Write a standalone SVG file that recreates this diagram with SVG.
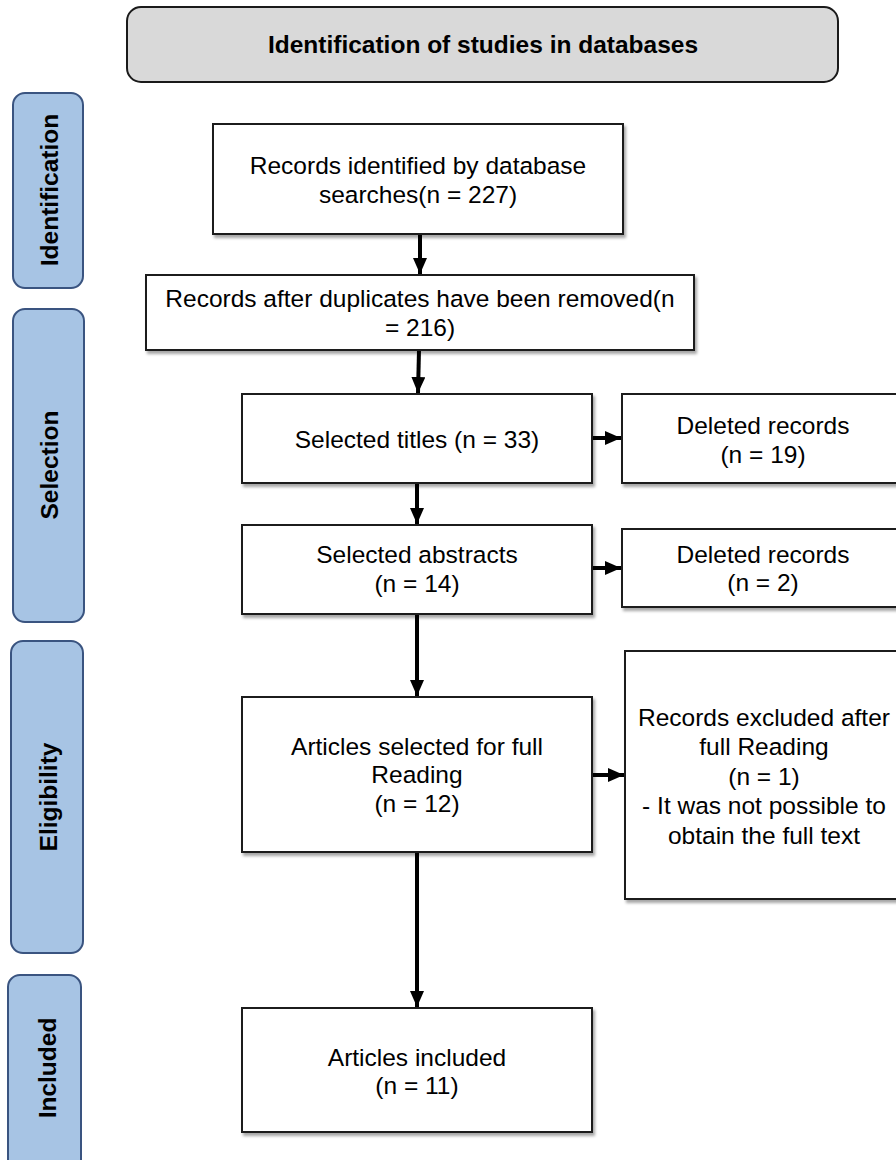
<svg xmlns="http://www.w3.org/2000/svg" width="896" height="1160" viewBox="0 0 896 1160">
<defs>
<filter id="sh" x="-5%" y="-5%" width="115%" height="120%">
<feDropShadow dx="2" dy="3" stdDeviation="1.8" flood-color="#000" flood-opacity="0.35"/>
</filter>
<marker id="ah" viewBox="0 0 10 10" refX="10" refY="5" markerWidth="4" markerHeight="3.5" preserveAspectRatio="none" orient="auto" markerUnits="strokeWidth">
<path d="M0,0 L10,5 L0,10 Z" fill="#000"/>
</marker>
<style>
.box{fill:#fff;stroke:#1a1a1a;stroke-width:2;filter:url(#sh)}
.phase{fill:#a7c4e4;stroke:#3a5480;stroke-width:2}
.hdr{fill:#d9d9d9;stroke:#1a1a1a;stroke-width:2}
.t{font-family:"Liberation Sans",Arial,sans-serif;font-size:24.5px;fill:#000;text-anchor:middle}
.b{font-family:"Liberation Sans",Arial,sans-serif;font-size:24.5px;font-weight:bold;fill:#000;text-anchor:middle}
.c{stroke:#000;stroke-width:4;fill:none;marker-end:url(#ah)}
</style>
</defs>
<rect width="896" height="1160" fill="#fff"/>

<g id="header">
<rect class="hdr" x="127" y="7" width="711" height="75" rx="14"/>
<text class="b" x="483" y="53">Identification of studies in databases</text>
</g>

<g id="phase-identification">
<rect class="phase" x="13" y="93" width="70" height="195" rx="12"/>
<text class="b" transform="translate(58,190) rotate(-90)">Identification</text>
</g>
<g id="phase-selection">
<rect class="phase" x="13" y="309" width="71" height="313" rx="12"/>
<text class="b" transform="translate(58,465) rotate(-90)">Selection</text>
</g>
<g id="phase-eligibility">
<rect class="phase" x="11" y="641" width="72" height="312" rx="12"/>
<text class="b" transform="translate(57,797) rotate(-90)">Eligibility</text>
</g>
<g id="phase-included">
<rect class="phase" x="8" y="975" width="73" height="200" rx="12"/>
<text class="b" transform="translate(56,1068) rotate(-90)">Included</text>
</g>

<g id="connectors">
<line class="c" x1="420" y1="234" x2="420" y2="274"/>
<line class="c" x1="419" y1="350" x2="418" y2="393"/>
<line class="c" x1="417" y1="483" x2="417" y2="524"/>
<line class="c" x1="417" y1="614" x2="417" y2="696"/>
<line class="c" x1="417" y1="852" x2="417" y2="1007"/>
<line class="c" x1="592" y1="438" x2="621" y2="438"/>
<line class="c" x1="592" y1="568" x2="621" y2="568"/>
<line class="c" x1="592" y1="775" x2="624" y2="775"/>
</g>

<g id="n-records-identified">
<rect class="box" x="213" y="124" width="410" height="110"/>
<text class="t" x="418" y="174">Records identified by database</text>
<text class="t" x="418" y="203">searches(n = 227)</text>
</g>
<g id="n-after-duplicates">
<rect class="box" x="146" y="275" width="548" height="75"/>
<text class="t" x="420" y="307">Records after duplicates have been removed(n</text>
<text class="t" x="420" y="336">= 216)</text>
</g>
<g id="n-selected-titles">
<rect class="box" x="242" y="394" width="350" height="89"/>
<text class="t" x="417" y="448">Selected titles (n = 33)</text>
</g>
<g id="n-deleted-1">
<rect class="box" x="622" y="394" width="290" height="89"/>
<text class="t" x="763" y="434">Deleted records</text>
<text class="t" x="763" y="463">(n = 19)</text>
</g>
<g id="n-selected-abstracts">
<rect class="box" x="242" y="525" width="350" height="89"/>
<text class="t" x="417" y="563">Selected abstracts</text>
<text class="t" x="417" y="592">(n = 14)</text>
</g>
<g id="n-deleted-2">
<rect class="box" x="622" y="529" width="290" height="78"/>
<text class="t" x="763" y="563">Deleted records</text>
<text class="t" x="763" y="591">(n = 2)</text>
</g>
<g id="n-full-reading">
<rect class="box" x="242" y="697" width="350" height="155"/>
<text class="t" x="417" y="755">Articles selected for full</text>
<text class="t" x="417" y="783">Reading</text>
<text class="t" x="417" y="812">(n = 12)</text>
</g>
<g id="n-excluded">
<rect class="box" x="625" y="651" width="290" height="248"/>
<text class="t" x="764" y="726">Records excluded after</text>
<text class="t" x="764" y="755">full Reading</text>
<text class="t" x="764" y="785">(n = 1)</text>
<text class="t" x="764" y="814">- It was not possible to</text>
<text class="t" x="764" y="844">obtain the full text</text>
</g>
<g id="n-included">
<rect class="box" x="242" y="1008" width="350" height="124"/>
<text class="t" x="417" y="1066">Articles included</text>
<text class="t" x="417" y="1094">(n = 11)</text>
</g>
</svg>
